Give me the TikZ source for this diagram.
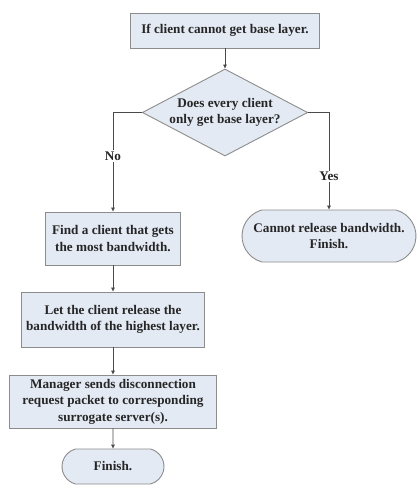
\documentclass[tikz,border=0pt]{standalone}
\usepackage{fontspec}
\setmainfont{Liberation Serif}
\usetikzlibrary{shapes.geometric,shapes.misc,arrows.meta}
\definecolor{boxfill}{HTML}{E4EAF4}
\definecolor{boxline}{HTML}{8C8C8C}
\definecolor{flowline}{HTML}{4A4A4A}
\begin{document}
\begin{tikzpicture}[x=1pt,y=-1pt,
  every node/.style={font=\bfseries\fontsize{13.2}{16.5}\selectfont, text=black!85, align=center},
  stepbox/.style={rectangle, draw=boxline, line width=0.9pt, fill=boxfill, inner sep=0pt},
  decbox/.style={diamond, draw=boxline, line width=0.9pt, fill=boxfill, inner sep=0pt, shape aspect=1.9},
  termbox/.style={rounded rectangle, rounded rectangle arc length=150, draw=boxline, line width=0.9pt, fill=boxfill, inner sep=0pt},
  flow/.style={draw=flowline, line width=0.7pt, -{Triangle[length=4pt,width=3.5pt]}},
  edgelabel/.style={fill=white, inner sep=1.5pt}]
\useasboundingbox (0,0) rectangle (418,485);

% process steps
\node[stepbox, minimum width=189pt, minimum height=35pt] (start) at (225,30.5) {If client cannot get base layer.};
\node[decbox, minimum width=156pt, minimum height=81pt] (dec) at (225,112.5) {Does every client\\only get base layer?};
\node[stepbox, minimum width=135pt, minimum height=53pt] (find) at (113,238.5) {Find a client that gets\\the most bandwidth.};
\node[termbox, minimum width=174pt, minimum height=52pt] (cannot) at (329,236) {Cannot release bandwidth.\\Finish.};
\node[stepbox, minimum width=183pt, minimum height=55pt] (let) at (113,319.5) {Let the client release the\\bandwidth of the highest layer.};
\node[stepbox, minimum width=207pt, minimum height=53pt] (mgr) at (113,401.5) {Manager sends disconnection\\request packet to corresponding\\surrogate server(s).};
\node[termbox, minimum width=102pt, minimum height=35pt] (fin) at (113,466.5) {Finish.};

% connectors
\draw[flow] (start) -- (dec);
\draw[flow] (dec.west) -| node[edgelabel, pos=0.72] {No} (find.north);
\draw[flow] (dec.east) -| node[edgelabel, pos=0.83] {Yes} (cannot.north);
\draw[flow] (find) -- (let);
\draw[flow] (let) -- (mgr);
\draw[flow] (mgr) -- (fin);
\end{tikzpicture}
\end{document}
